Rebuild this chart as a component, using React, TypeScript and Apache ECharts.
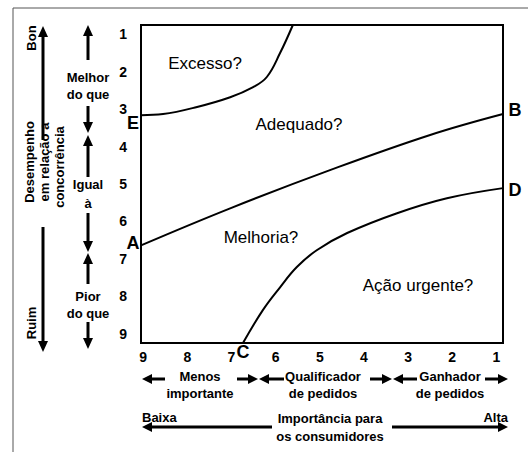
import React, { useEffect, useRef } from "react";
import * as echarts from "echarts";

// Curve E (Excesso / Adequado boundary): importance (x, 9..1) vs performance (y, 1..9)
const curveEX = [9.05, 8.55, 7.78, 7.03, 6.51, 6.2, 5.9, 5.61];
const curveEY = [3.16, 3.13, 2.94, 2.68, 2.41, 2.14, 1.5, 0.75];
// Line A-B (Adequado / Melhoria boundary)
const lineABX = [9.05, 7.03, 4.77, 2.5, 0.85];
const lineABY = [6.64, 5.65, 4.63, 3.69, 3.13];
// Curve C-D (Melhoria / Ação urgente boundary)
const curveCDX = [6.74, 6.29, 5.9, 5.52, 5.07, 4.38, 3.25, 2.12, 0.85];
const curveCDY = [9.25, 8.37, 7.76, 7.22, 6.77, 6.31, 5.78, 5.38, 5.11];

const regionLabels = ["Excesso?", "Adequado?", "Melhoria?", "Ação urgente?"];
const pointLabels = ["E", "A", "B", "D", "C"];
const importanceGroups = ["Menos\nimportante", "Qualificador\nde pedidos", "Ganhador\nde pedidos"];
const performanceGroups = ["Melhor\ndo que", "Igual\nà", "Pior\ndo que"];
const performanceTitle = ["Desempenho", "em relação a", "concorrência"];

const FONT = "'Liberation Sans', Arial, sans-serif";

const zip = (xs: number[], ys: number[]) => xs.map((x, i) => [x, ys[i]]);

function arrow(x1: number, y1: number, x2: number, y2: number, w = 3, head = 11, hw = 5): any[] {
  const dx = x2 - x1;
  const dy = y2 - y1;
  const L = Math.hypot(dx, dy);
  const ux = dx / L;
  const uy = dy / L;
  const bx = x2 - ux * head;
  const by = y2 - uy * head;
  return [
    { type: "line", silent: true, shape: { x1, y1, x2: bx + ux, y2: by + uy }, style: { stroke: "#000", lineWidth: w } },
    {
      type: "polygon",
      silent: true,
      shape: { points: [[x2, y2], [bx - uy * hw, by + ux * hw], [bx + uy * hw, by - ux * hw]] },
      style: { fill: "#000" },
    },
  ];
}

function txt(x: number, y: number, text: string, size: number, bold: boolean, opts: any = {}): any {
  return {
    type: "text",
    silent: true,
    x,
    y,
    rotation: opts.rotation || 0,
    style: {
      text,
      fill: "#000",
      font: `${bold ? "bold " : ""}${size}px ${FONT}`,
      align: opts.align || "center",
      verticalAlign: "middle",
      lineHeight: opts.lineHeight || size,
    },
  };
}

const intLabel = (v: number) => (Math.abs(v - Math.round(v)) < 1e-6 ? String(Math.round(v)) : "");

export default function App() {
  const ref = useRef<HTMLDivElement>(null);
  useEffect(() => {
    if (!ref.current) return;
    const chart = echarts.init(ref.current, undefined, { renderer: "svg" });
    const lineSeries = (data: number[][]) => ({
      type: "line",
      data,
      smooth: 0.4,
      showSymbol: false,
      symbol: "none",
      silent: true,
      clip: false,
      lineStyle: { color: "#000", width: 2 },
    });
    const graphic: any[] = [
      // outer frame
      { type: "line", silent: true, shape: { x1: 13, y1: 8, x2: 528, y2: 8 }, style: { stroke: "#555", lineWidth: 1 } },
      { type: "line", silent: true, shape: { x1: 13, y1: 8, x2: 13, y2: 452 }, style: { stroke: "#555", lineWidth: 1 } },
      // left big arrow
      ...arrow(43, 140, 43, 26),
      ...arrow(43, 227, 43, 352),
      txt(31, 38, "Bon", 13, true, { rotation: Math.PI / 2 }),
      txt(31, 323, "Ruim", 13, true, { rotation: Math.PI / 2 }),
      txt(29.5, 162, performanceTitle[0], 13, true, { rotation: Math.PI / 2 }),
      txt(44.5, 162, performanceTitle[1], 13, true, { rotation: Math.PI / 2 }),
      txt(59, 167, performanceTitle[2], 13, true, { rotation: Math.PI / 2 }),
      // second column arrows
      ...arrow(88, 60, 88, 25),
      ...arrow(88, 106, 88, 133),
      ...arrow(88, 177, 88, 135),
      ...arrow(88, 213, 88, 252),
      ...arrow(88, 284, 88, 253),
      ...arrow(88, 322, 88, 349),
      txt(88, 85.5, performanceGroups[0], 13, true, { lineHeight: 17 }),
      txt(88, 193.5, performanceGroups[1], 13, true, { lineHeight: 19 }),
      txt(88, 304.5, performanceGroups[2], 13, true, { lineHeight: 17 }),
      // bottom group arrows
      ...arrow(165, 379, 142, 379, 3, 10, 5),
      ...arrow(237, 379, 258, 379, 3, 10, 5),
      ...arrow(284, 379, 259, 379, 3, 10, 5),
      ...arrow(370, 379, 392, 379, 3, 10, 5),
      ...arrow(417, 379, 393, 379, 3, 10, 5),
      ...arrow(485, 379, 508, 379, 3, 10, 5),
      txt(200, 385, importanceGroups[0], 13, true, { lineHeight: 16.5 }),
      txt(323, 385, importanceGroups[1], 13, true, { lineHeight: 16.5 }),
      txt(450, 385, importanceGroups[2], 13, true, { lineHeight: 16.5 }),
      // importance arrow
      ...arrow(272, 427, 142, 427, 3, 10, 5),
      ...arrow(392, 427, 508, 427, 3, 10, 5),
      txt(142, 417, "Baixa", 13, true, { align: "left" }),
      txt(508, 417, "Alta", 13, true, { align: "right" }),
      txt(330, 427.5, "Importância para\nos consumidores", 13, true, { lineHeight: 17.5 }),
      // region labels
      txt(205, 63, regionLabels[0], 17, false),
      txt(299, 124, regionLabels[1], 17, false),
      txt(261, 237, regionLabels[2], 17, false),
      txt(418, 285, regionLabels[3], 17, false),
      // point letters
      txt(133, 123, pointLabels[0], 18, true),
      txt(133, 243, pointLabels[1], 18, true),
      txt(515, 110, pointLabels[2], 18, true),
      txt(515, 190, pointLabels[3], 18, true),
      txt(243, 352, pointLabels[4], 18, true),
    ];
    chart.setOption({
      animation: false,
      backgroundColor: "#fff",
      grid: { left: 141, top: 25, width: 362, height: 318, show: true, borderColor: "#000", borderWidth: 2, backgroundColor: "transparent" },
      xAxis: {
        type: "value",
        min: 0.85,
        max: 9.05,
        interval: 0.05,
        inverse: true,
        axisLine: { show: false },
        axisTick: { show: false },
        splitLine: { show: false },
        axisLabel: { formatter: intLabel, fontFamily: FONT, fontWeight: "bold", fontSize: 14, color: "#000", margin: 7 },
      },
      yAxis: {
        type: "value",
        min: 0.75,
        max: 9.25,
        interval: 0.25,
        inverse: true,
        axisLine: { show: false },
        axisTick: { show: false },
        splitLine: { show: false },
        axisLabel: { formatter: intLabel, fontFamily: FONT, fontWeight: "bold", fontSize: 14, color: "#000", margin: 14 },
      },
      series: [lineSeries(zip(curveEX, curveEY)), lineSeries(zip(lineABX, lineABY)), lineSeries(zip(curveCDX, curveCDY))],
      graphic,
    });
    return () => chart.dispose();
  }, []);
  return <div ref={ref} style={{ position: "fixed", left: 0, top: 0, width: 528, height: 452, background: "#fff" }} />;
}
